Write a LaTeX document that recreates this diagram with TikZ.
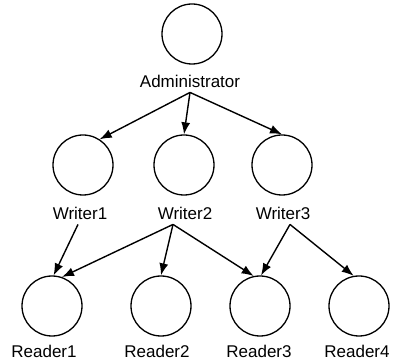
\documentclass[tikz,border=0pt]{standalone}
\usepackage{fontspec}
\setmainfont{Liberation Sans}
\usetikzlibrary{arrows.meta}
\tikzset{
  role/.style={draw, circle, minimum size=60pt, inner sep=0pt, line width=1.3pt},
  rolename/.style={inner sep=5pt, font=\fontsize{17}{20}\selectfont},
  grant/.style={-{Latex[length=12pt,width=9pt]}, line width=1.4pt}
}
\begin{document}
\begin{tikzpicture}[x=1pt,y=-1pt]
\useasboundingbox (0,0) rectangle (402,363);
\node[role] (admin) at (192,34) {};
\node[rolename] (adminl) at (190,81) {Administrator};
\node[role] (writer1) at (83,165) {};
\node[role] (writer2) at (184,165) {};
\node[role] (writer3) at (282,165) {};
\node[rolename] (writer1l) at (80,213) {Writer1};
\node[rolename] (writer2l) at (185,213) {Writer2};
\node[rolename] (writer3l) at (283,213) {Writer3};
\node[role] (reader1) at (52,306) {};
\node[role] (reader2) at (161,306) {};
\node[role] (reader3) at (260,306) {};
\node[role] (reader4) at (359,306) {};
\node[rolename] (reader1l) at (44,351) {Reader1};
\node[rolename] (reader2l) at (157,351) {Reader2};
\node[rolename] (reader3l) at (259,351) {Reader3};
\node[rolename] (reader4l) at (357,351) {Reader4};
\draw[grant] (adminl.south) -- (writer1.57);
\draw[grant] (adminl.south) -- (writer2.north);
\draw[grant] (adminl.south) -- (writer3.north);
\draw[grant] ([xshift=-2pt]writer1l.south) -- (reader1.87);
\draw[grant] ([xshift=-12pt]writer2l.south) -- (reader1.71);
\draw[grant] ([xshift=-12pt]writer2l.south) -- (reader2.north);
\draw[grant] ([xshift=-12pt]writer2l.south) -- (reader3.102);
\draw[grant] ([xshift=7pt]writer3l.south) -- (reader3.88);
\draw[grant] ([xshift=7pt]writer3l.south) -- (reader4.100);
\end{tikzpicture}
\end{document}
